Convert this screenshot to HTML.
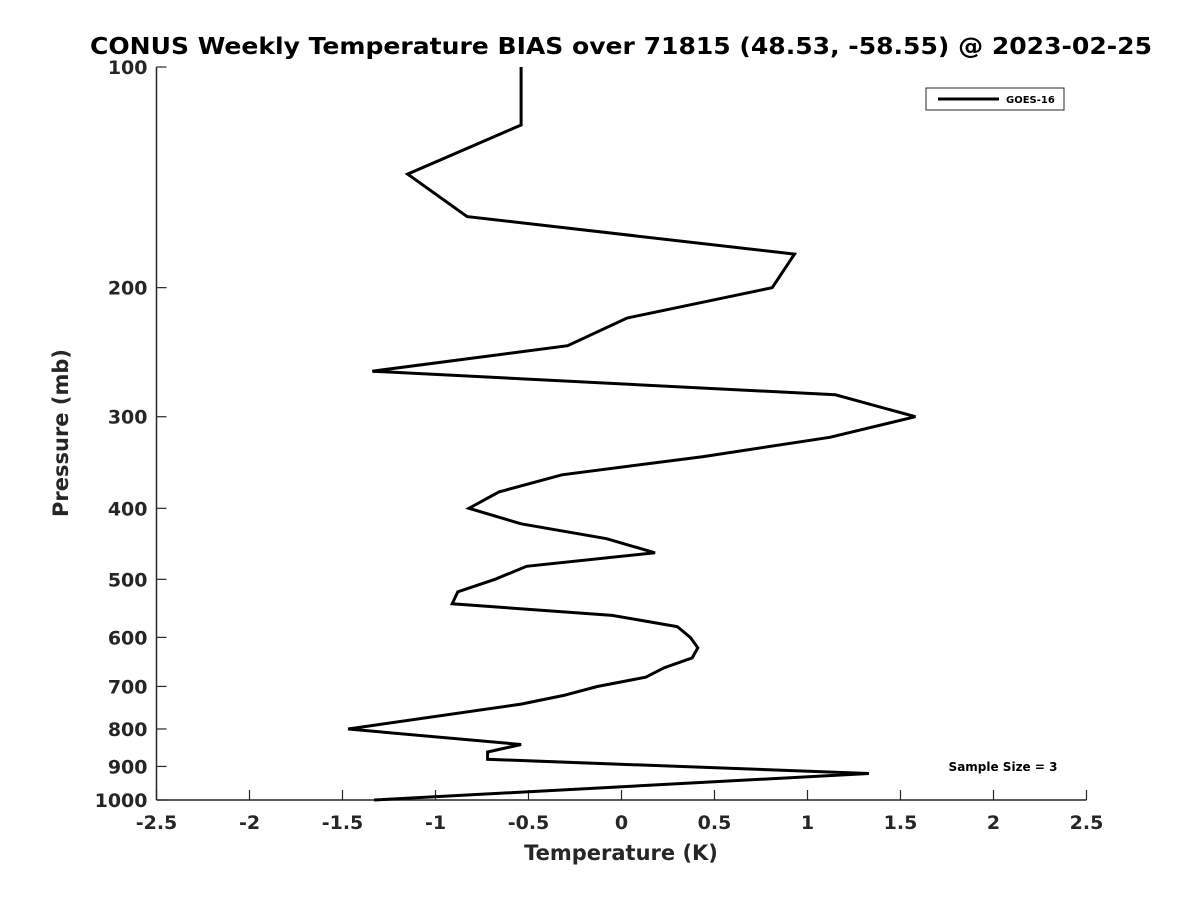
<!DOCTYPE html>
<html><head><meta charset="utf-8"><style>
body{margin:0;background:#fff;}
svg{display:block;font-family:"DejaVu Sans","Liberation Sans",sans-serif;font-weight:bold;}
</style></head><body>
<svg id="chart" width="1200" height="900" viewBox="0 0 1200 900">
<rect width="1200" height="900" fill="#fff"/>
<text x="621" y="54" text-anchor="middle" font-size="23" fill="#000" textLength="1062" lengthAdjust="spacingAndGlyphs">CONUS Weekly Temperature BIAS over 71815 (48.53, -58.55) @ 2023-02-25</text>
<g id="axes"></g>
<polyline id="series" fill="none" stroke="#000" stroke-width="3" stroke-linejoin="miter"/>
<text x="68" y="433" text-anchor="middle" font-size="21" fill="#262626" transform="rotate(-90 68 433)">Pressure (mb)</text>
<text x="621" y="860" text-anchor="middle" font-size="21" fill="#262626">Temperature (K)</text>
<g>
<rect x="926" y="88" width="138" height="22" fill="#fff" stroke="#262626" stroke-width="1"/>
<line x1="938" y1="99" x2="999" y2="99" stroke="#000" stroke-width="3"/>
<text x="1006" y="103" font-size="10" fill="#000">GOES-16</text>
</g>
<text x="1003" y="771" text-anchor="middle" font-size="12" fill="#000">Sample Size = 3</text>
</svg>
<script>
const pressures=[100,120,140,160,180,200,220,240,260,280,300,320,340,360,380,400,420,440,460,480,500,520,540,560,580,600,620,640,660,680,700,720,740,800,840,860,880,920,1000];
const biases=[-0.54,-0.54,-1.15,-0.83,0.93,0.81,0.03,-0.29,-1.34,1.15,1.58,1.12,0.44,-0.32,-0.66,-0.82,-0.54,-0.08,0.18,-0.51,-0.68,-0.88,-0.91,-0.05,0.30,0.37,0.41,0.38,0.23,0.13,-0.13,-0.31,-0.54,-1.47,-0.54,-0.72,-0.72,1.33,-1.33];
const xTicks=[-2.5,-2,-1.5,-1,-0.5,0,0.5,1,1.5,2,2.5];
const xTickLabels=["-2.5","-2","-1.5","-1","-0.5","0","0.5","1","1.5","2","2.5"];
const yTicks=[100,200,300,400,500,600,700,800,900,1000];
const yTickLabels=["100","200","300","400","500","600","700","800","900","1000"];
const X0=156.5,X1=1086.5,Y0=67,Y1=800;
function xs(v){return X0+(v+2.5)/5*(X1-X0);}
function ys(p){return Y0+Math.log10(p/100)*(Y1-Y0);}
const NS="http://www.w3.org/2000/svg";
const ax=document.getElementById('axes');
function mk(t,a){const e=document.createElementNS(NS,t);for(const k in a)e.setAttribute(k,a[k]);return e;}
let l=mk('line',{x1:X0,y1:Y0,x2:X0,y2:Y1,stroke:'#262626','stroke-width':1.5});


ax.appendChild(l);
l=mk('line',{x1:X0,y1:Y1,x2:X1,y2:Y1,stroke:'#262626','stroke-width':1.5});


ax.appendChild(l);
xTicks.forEach((v,i)=>{
 const x=xs(v);
 const t=mk('line',{x1:x,y1:Y1,x2:x,y2:Y1-10,stroke:'#262626','stroke-width':1.2});
 
 
 ax.appendChild(t);
 const s=mk('text',{x:x,y:Y1+29,'text-anchor':'middle','font-size':19,fill:'#262626'});
 s.textContent=xTickLabels[i];
 
 
 ax.appendChild(s);
});
yTicks.forEach((p,i)=>{
 const y=ys(p);
 const t=mk('line',{x1:X0,y1:y,x2:X0+10,y2:y,stroke:'#262626','stroke-width':1.2});
 
 
 ax.appendChild(t);
 const s=mk('text',{x:X0-9,y:y+7,'text-anchor':'end','font-size':19,fill:'#262626'});
 s.textContent=yTickLabels[i];
 
 
 ax.appendChild(s);
});
document.getElementById('series').setAttribute('points',pressures.map((p,i)=>xs(biases[i]).toFixed(1)+','+ys(p).toFixed(1)).join(' '));
</script>
</body></html>
